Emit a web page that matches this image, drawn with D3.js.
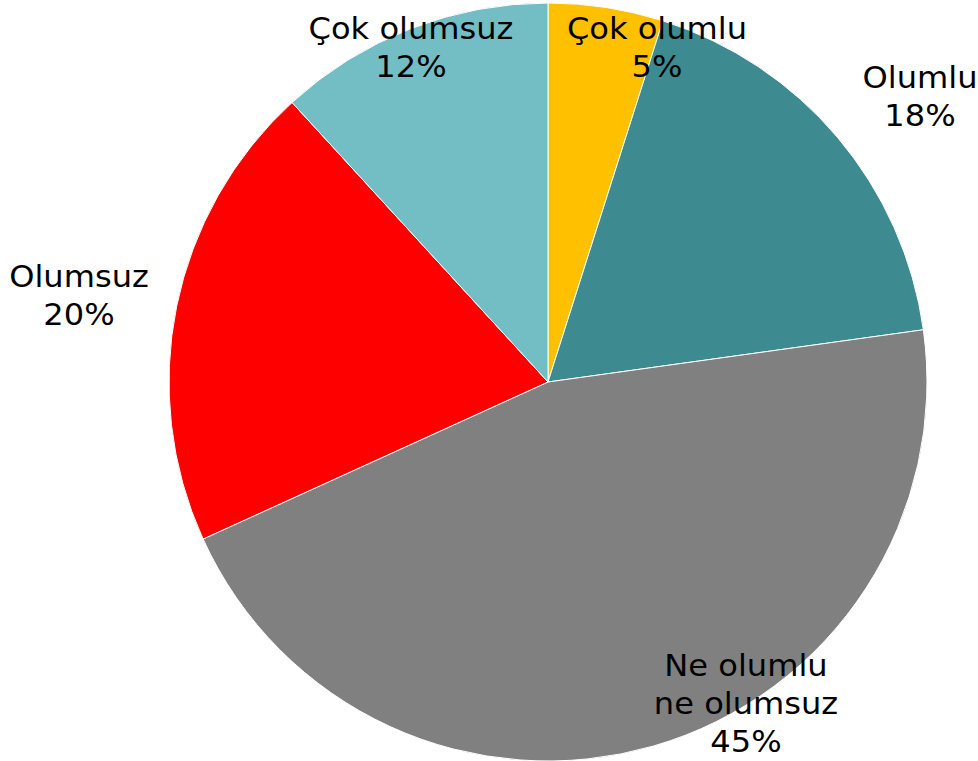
<!DOCTYPE html>
<html>
  <head>
    <meta charset="utf-8">
    <script src="https://d3js.org/d3.v7.min.js"></script>
    <style>
      body { margin: 0; background: #fff; }
    </style>
  </head>
  <body>
  <div id='chart'></div>
    <script type="text/javascript">

var w = 978,
    h = 761;

// data, clockwise from 12 o'clock
var categories = ["Çok olumlu", "Olumlu", "Ne olumlu ne olumsuz", "Olumsuz", "Çok olumsuz"];
var values = [4.9, 17.9, 45.4, 20.0, 11.8];
var colors = ["#FFC000", "#3D8B91", "#808080", "#FF0000", "#72BEC4"];
// label lines as shown in the picture
var labelLines = [["Çok olumlu"], ["Olumlu"], ["Ne olumlu", "ne olumsuz"], ["Olumsuz"], ["Çok olumsuz"]];
// where each label block sits (its first baseline)
var labelPos = [[657, 39], [920, 88], [746, 676], [79, 287], [411, 39]];

var cx = 548, cy = 382, r = 379;

var svg = d3.select("#chart").append("svg")
    .attr("width", w)
    .attr("height", h);

var pie = d3.pie().sort(null).value(function(d){ return d; });
var arc = d3.arc().innerRadius(0).outerRadius(r);

var slices = svg.append("g")
    .attr("transform", "translate(" + cx + "," + cy + ")");

var arcs = pie(values);

slices.selectAll("path")
    .data(arcs)
  .enter().append("path")
    .attr("d", arc)
    .attr("fill", function(d, i){ return colors[i]; })
    .attr("stroke", "#fff")
    .attr("stroke-width", 1);

var labels = svg.append("g")
    .attr("font-family", "'DejaVu Sans', Verdana, sans-serif")
    .attr("font-size", "30px")
    .attr("fill", "#000")
    .attr("text-anchor", "middle");

// Verdana is a bit wider than DejaVu, so stretch the labels sideways
labels.selectAll("text")
    .data(arcs)
  .enter().append("text")
    .attr("transform", function(d, i){
      return "translate(" + labelPos[i][0] + "," + labelPos[i][1] + ") scale(1.07,1)";
    })
    .each(function(d, i){
      var t = d3.select(this);
      var lines = labelLines[i].concat([Math.round(d.data) + "%"]);
      lines.forEach(function(s, j){
        t.append("tspan")
          .attr("x", 0)
          .attr("dy", j == 0 ? 0 : 38)
          .text(s);
      });
    });

    </script>
  </body>
</html>
